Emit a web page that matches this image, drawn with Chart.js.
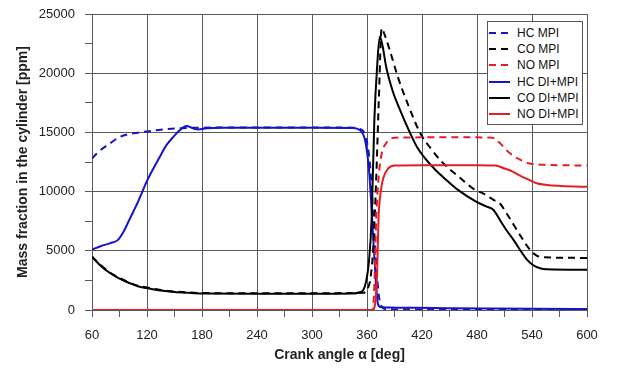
<!DOCTYPE html>
<html>
<head>
<meta charset="utf-8">
<script src="https://cdn.jsdelivr.net/npm/chart.js@4.4.0/dist/chart.umd.min.js"></script>
<style>
    body { margin: 0; background: #fff; }
    #wrap { position: relative; width: 624px; height: 369px; }
    #legend {
        position: absolute; left: 487px; top: 21px; width: 96px; height: 104px;
        box-sizing: border-box; border: 1px solid #555; background: #fff;
        font: 12px 'Liberation Sans', Arial, sans-serif; color: #111; padding-top: 3px;
    }
    .item { display: flex; align-items: center; height: 16.2px; white-space: nowrap; }
    .item svg { margin-left: 1px; margin-right: 7px; }
</style>
</head>
<body>
<div id="wrap">
    <canvas id="chart" width="624" height="369"></canvas>
    <div id="legend"></div>
</div>
<script>
// Crank angle ticks
const xTicks = [60, 120, 180, 240, 300, 360, 420, 480, 540, 600];
const yTicks = [0, 5000, 10000, 15000, 20000, 25000];

// HC MPI (dashed blue)
const hcMpiAngle = [60, 65, 70, 80, 90, 100, 110, 120, 135, 150, 165, 180, 240, 300, 345, 352, 358, 363, 367, 370, 373, 376, 380, 420, 480, 540, 600];
const hcMpiValue = [12800, 13200, 13550, 14100, 14600, 14850, 14980, 15080, 15230, 15330, 15380, 15400, 15420, 15420, 15400, 15300, 14800, 12500, 8000, 4000, 1200, 300, 80, 40, 20, 10, 0];

// HC DI+MPI (solid blue)
const hcDiAngle = [60, 70, 80, 88, 95, 100, 105, 110, 115, 120, 128, 134, 141, 149, 156, 163, 170, 176, 185, 200, 240, 300, 345, 352, 358, 362, 365, 368, 370, 372, 375, 390, 450, 540, 600];
const hcDiValue = [5100, 5400, 5650, 5900, 6700, 7500, 8300, 9100, 10000, 10900, 12100, 12950, 13900, 14650, 15200, 15550, 15350, 15250, 15350, 15400, 15400, 15400, 15380, 15200, 14300, 12000, 8500, 4500, 2000, 500, 250, 200, 150, 100, 80];

// CO MPI (dashed black)
const coMpiAngle = [60, 70, 80, 90, 100, 110, 120, 135, 150, 165, 180, 240, 300, 345, 355, 360, 364, 367, 370, 373, 376, 379, 385, 394, 403, 418, 430, 440, 450, 461, 475, 490, 498, 505, 512, 520, 528, 538, 545, 552, 600];
const coMpiValue = [4500, 3750, 3150, 2700, 2350, 2050, 1900, 1700, 1560, 1480, 1430, 1420, 1420, 1430, 1450, 1700, 2800, 5500, 11000, 18000, 23800, 23300, 21900, 19600, 17700, 14950, 13600, 12650, 11900, 11200, 10300, 9700, 9300, 9000, 8200, 7200, 6200, 5070, 4600, 4450, 4400];

// CO DI+MPI (solid black)
const coDiAngle = [60, 70, 80, 90, 100, 110, 120, 135, 150, 165, 180, 240, 300, 345, 352, 356, 359, 362, 365, 368, 371, 374, 377, 381, 388, 396, 407, 415, 425, 435, 447, 460, 479, 490, 498, 505, 512, 520, 527, 534, 541, 548, 556, 600];
const coDiValue = [4500, 3700, 3100, 2650, 2300, 2000, 1850, 1650, 1520, 1450, 1400, 1380, 1380, 1400, 1500, 1700, 2400, 4000, 7600, 16000, 20500, 23100, 22300, 20500, 18500, 16900, 14950, 13700, 12650, 11800, 10950, 10100, 9150, 8750, 8450, 7600, 6760, 5900, 5070, 4300, 3800, 3550, 3440, 3400];

// NO MPI (dashed red)
const noMpiAngle = [60, 300, 366, 368, 370, 373, 376, 381, 390, 420, 480, 497, 505, 512, 520, 528, 536, 545, 560, 600];
const noMpiValue = [0, 0, 0, 2000, 7600, 11500, 13200, 14100, 14550, 14580, 14580, 14550, 14100, 13500, 13000, 12650, 12400, 12300, 12250, 12200];

// NO DI+MPI (solid red)
const noDiAngle = [60, 300, 366, 369, 371, 372.5, 375, 378, 383, 390, 420, 480, 500, 510, 519, 528, 538, 545, 556, 600];
const noDiValue = [0, 0, 0, 600, 3000, 7600, 10000, 11200, 11950, 12200, 12230, 12230, 12200, 11950, 11680, 11300, 10950, 10700, 10560, 10400];

const BLUE = '#1414c8';
const RED = '#e41e24';
const BLACK = '#000000';
const DASH = [7, 5];

function pts(angles, values) {
    return angles.map((a, i) => ({ x: a, y: values[i] }));
}

function series(label, angles, values, color, dashed, order) {
    return {
        label: label,
        data: pts(angles, values),
        borderColor: color,
        backgroundColor: color,
        borderWidth: 2,
        borderDash: dashed ? DASH : [],
        pointRadius: 0,
        cubicInterpolationMode: 'monotone',
        fill: false,
        order: order
    };
}

const datasets = [
    series('HC MPI', hcMpiAngle, hcMpiValue, BLUE, true, 5),
    series('CO MPI', coMpiAngle, coMpiValue, BLACK, true, 3),
    series('NO MPI', noMpiAngle, noMpiValue, RED, true, 1),
    series('HC DI+MPI', hcDiAngle, hcDiValue, BLUE, false, 4),
    series('CO DI+MPI', coDiAngle, coDiValue, BLACK, false, 2),
    series('NO DI+MPI', noDiAngle, noDiValue, RED, false, 0)
];

Chart.defaults.font.family = "'Liberation Sans', Arial, sans-serif";
Chart.defaults.color = '#222';

const gridColor = '#5a5a5a';

new Chart(document.getElementById('chart'), {
    type: 'line',
    data: { datasets: datasets },
    options: {
        responsive: false,
        animation: false,
        layout: { padding: { left: 11, right: 37, top: 14, bottom: 0 } },
        plugins: { legend: { display: false }, tooltip: { enabled: false } },
        scales: {
            x: {
                type: 'linear',
                min: 60, max: 600,
                afterFit: s => { s.height = 59; },
                ticks: {
                    stepSize: 30,
                    autoSkip: false,
                    maxRotation: 0,
                    padding: 11,
                    font: { size: 13 },
                    callback: v => xTicks.includes(v) ? String(v) : ''
                },
                grid: {
                    color: ctx => (ctx.tick && xTicks.includes(ctx.tick.value)) ? gridColor : 'rgba(0,0,0,0)',
                    tickColor: gridColor,
                    tickLength: 7
                },
                border: { color: gridColor },
                title: {
                    display: true,
                    text: 'Crank angle α [deg]',
                    font: { size: 14, weight: 'bold' },
                    padding: { top: 2, bottom: 5 }
                }
            },
            y: {
                min: 0, max: 25000,
                afterFit: s => { s.width = 81; s.paddingTop = 4; },
                ticks: {
                    stepSize: 2500,
                    padding: 10,
                    font: { size: 13 },
                    callback: v => yTicks.includes(v) ? String(v) : ''
                },
                grid: {
                    color: ctx => (ctx.tick && yTicks.includes(ctx.tick.value)) ? gridColor : 'rgba(0,0,0,0)',
                    tickColor: gridColor,
                    tickLength: 7
                },
                border: { color: gridColor },
                title: {
                    display: true,
                    text: 'Mass fraction in the cylinder [ppm]',
                    font: { size: 14, weight: 'bold' },
                    padding: { top: 4, bottom: 4 }
                }
            }
        }
    }
});

// HTML legend inside the plot
const legend = document.getElementById('legend');
datasets.forEach(ds => {
    const row = document.createElement('div');
    row.className = 'item';
    const dash = ds.borderDash.length ? `stroke-dasharray="${ds.borderDash.join(' ')}"` : '';
    row.innerHTML = `<svg width="21" height="4"><line x1="0" y1="2" x2="21" y2="2" stroke="${ds.borderColor}" stroke-width="2" ${dash}/></svg><span>${ds.label}</span>`;
    legend.appendChild(row);
});
</script>
</body>
</html>
